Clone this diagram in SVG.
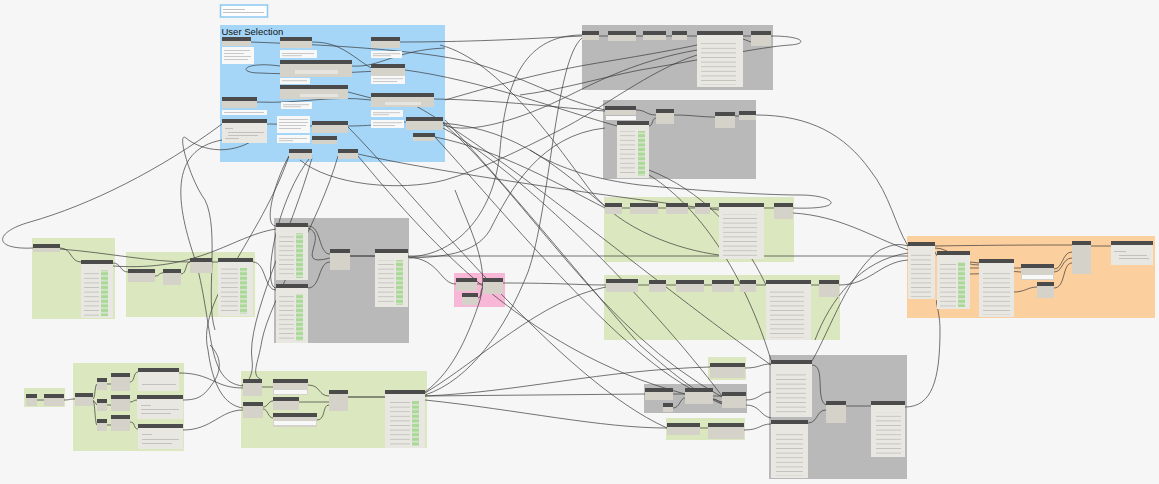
<svg xmlns="http://www.w3.org/2000/svg" width="1159" height="484" viewBox="0 0 1159 484">
<defs>
<pattern id="tl" width="10" height="4.6" patternUnits="userSpaceOnUse"><rect x="0" y="1.9" width="10" height="0.6" fill="#b1afaa"/></pattern>
<pattern id="gc" width="8" height="4.6" patternUnits="userSpaceOnUse"><rect x="0" y="0.6" width="8" height="3.4" fill="#a9d996"/></pattern>
<style>
.grp-blue{fill:#a5d6f8}.grp-gray{fill:#b9b9b9}.grp-green{fill:#dbe7be}.grp-orange{fill:#fccf9f}.grp-pink{fill:#f8b7d7}
.h{fill:#4b4b4b}.b{fill:#d5d2ca}.l{fill:#e9e7e2}.p{fill:#e6e4de}
.n{fill:#f8f8f8}.tx{fill:#a8a8a8}
.tl{fill:url(#tl)}.gc{fill:url(#gc)}
.w{fill:none;stroke:#3a3a3a;stroke-width:0.7}
.wb{fill:none;stroke:#2f2f2f;stroke-width:1.1}
.title{font-family:"Liberation Sans",Arial,sans-serif;font-size:9.5px;fill:#111}
</style>
</defs>
<rect width="1159" height="484" fill="#f6f6f6"/>

<g id="groups">
<rect class="grp-blue" x="220" y="25" width="225" height="137"/>
<text class="title" x="221.5" y="34.5">User Selection</text>
<rect class="grp-gray" x="582" y="25" width="191" height="65"/>
<rect class="grp-gray" x="603" y="100" width="153" height="79"/>
<rect class="grp-green" x="604" y="197" width="190" height="65"/>
<rect class="grp-green" x="604" y="275" width="236" height="65"/>
<rect class="grp-orange" x="907" y="236" width="248" height="82"/>
<rect class="grp-green" x="32" y="238" width="83" height="81"/>
<rect class="grp-green" x="126" y="252" width="129" height="65"/>
<rect class="grp-gray" x="274" y="218" width="135" height="125"/>
<rect class="grp-pink" x="454" y="273" width="51" height="34"/>
<rect class="grp-green" x="24" y="388" width="41" height="19"/>
<rect class="grp-green" x="73" y="363" width="111" height="88"/>
<rect class="grp-green" x="241" y="371" width="186" height="77"/>
<rect class="grp-green" x="708" y="357" width="38" height="23"/>
<rect class="grp-gray" x="644" y="384" width="103" height="29"/>
<rect class="grp-green" x="666" y="418" width="79" height="22"/>
<rect class="grp-gray" x="769" y="355" width="138" height="124"/>
</g>

<g id="legend">
<rect x="220.5" y="5" width="47" height="12" fill="#fdfdfd" stroke="#8ccaf2" stroke-width="1.5"/>
<rect class="tx" x="223" y="9" width="22" height="0.7"/>
<rect class="tx" x="223" y="12" width="41" height="0.7"/>
</g>

<g id="connectors">
<path class="w" d="M33,248 C-8,250 -6,232 30,222 C90,205 160,170 222,124"/>
<path class="w" d="M60,248 C72,248 70,262 81,262"/>
<path class="w" d="M60,249 C110,253 150,262 190,262"/>
<path class="w" d="M113,263 C121,263 120,272 128,272"/>
<path class="w" d="M113,266 C200,272 232,236 276,229"/>
<path class="w" d="M155,276 C160,276 158,273 163,273"/>
<path class="w" d="M181,274 C187,274 185,262 190,262"/>
<path class="w" d="M212,262 L218,262"/>
<path class="w" d="M253,262 C266,262 264,290 276,290"/>
<path class="w" d="M308,226 C322,226 318,254 330,254"/>
<path class="w" d="M308,228 C330,236 292,268 330,258"/>
<path class="w" d="M308,288 C321,288 318,262 330,262"/>
<path class="wb" d="M350,256 L375,256"/>
<path class="w" d="M408,256 L908,256"/>
<path class="w" d="M408,257 C440,259 440,284 456,284"/>
<path class="w" d="M477,284 L483,284"/>
<path class="w" d="M478,298 C482,298 480,288 483,288"/>
<path class="w" d="M503,283 C560,283 580,285 606,285"/>
<path class="w" d="M582,35 C520,35 505,90 500,150 C495,210 460,255 408,257"/>
<path class="w" d="M605,128 C540,135 510,190 490,230 C475,255 440,257 409,258"/>
<path class="w" d="M276,226 C262,226 276,178 289,156"/>
<path class="w" d="M276,288 C262,288 275,200 312,155"/>
<path class="w" d="M222,140 C168,150 176,205 196,262 C214,330 206,382 243,386"/>
<path class="w" d="M289,156 C260,240 196,300 208,350 C214,396 230,406 243,408"/>
<path class="w" d="M312,158 C292,230 246,320 252,360 C255,380 240,390 243,384"/>
<path class="w" d="M338,156 C320,220 270,300 262,340 C258,365 250,375 262,380"/>
<path class="w" d="M267,130 C235,160 200,150 186,138 C176,130 190,180 205,200 C220,230 205,300 215,330"/>
<path class="w" d="M358,156 C420,230 520,350 685,394"/>
<path class="w" d="M443,123 C530,200 600,330 722,397"/>
<path class="w" d="M435,137 C520,230 640,380 722,402"/>
<path class="w" d="M405,100 C500,150 650,280 771,365"/>
<path class="w" d="M348,127 C420,200 560,380 667,428"/>
<path class="w" d="M443,128 C520,170 650,300 722,396"/>
<path class="w" d="M445,120 C520,200 600,300 640,345 C680,380 700,395 722,404"/>
<path class="w" d="M251,42 C330,45 420,50 470,62 C520,75 560,100 605,110"/>
<path class="w" d="M312,42 C340,42 350,55 371,68"/>
<path class="w" d="M400,42 C480,42 540,38 582,36"/>
<path class="w" d="M280,66 C243,61 236,73 260,73 C320,76 380,70 405,70"/>
<path class="w" d="M348,92 L371,98"/>
<path class="w" d="M257,102 C300,104 330,95 371,100"/>
<path class="w" d="M348,126 C380,126 385,122 406,122"/>
<path class="w" d="M267,124 C290,124 295,126 312,126"/>
<path class="w" d="M352,66 C380,68 395,50 445,48"/>
<path class="w" d="M434,99 C500,100 560,108 605,111"/>
<path class="w" d="M405,70 C480,80 560,110 617,126"/>
<path class="w" d="M443,123 C520,130 560,170 605,206"/>
<path class="w" d="M435,137 C500,150 560,185 605,208"/>
<path class="w" d="M358,154 C450,175 640,200 719,210"/>
<path class="w" d="M697,45 C650,55 600,62 570,68 C520,78 480,90 445,100"/>
<path class="w" d="M697,50 C640,60 600,80 570,95 C520,120 470,135 443,125"/>
<path class="w" d="M697,55 C650,70 600,110 560,130 C520,150 480,170 445,180 C400,192 330,185 300,160"/>
<path class="w" d="M440,45 C500,60 560,150 590,190 C620,230 680,250 719,255"/>
<path class="w" d="M599,36 L608,36 M636,36 L643,36 M666,36 L672,36 M687,36 L697,36 M743,36 L751,36"/>
<path class="w" d="M743,39 L751,42"/>
<path class="w" d="M771,36 C805,36 808,44 790,45 C760,47 700,60 640,70 C600,78 560,90 520,95"/>
<path class="w" d="M636,110 C646,110 646,115 656,115"/>
<path class="w" d="M649,126 C653,126 652,118 656,118"/>
<path class="w" d="M674,115 C692,115 700,117 715,117"/>
<path class="w" d="M735,116 L739,116"/>
<path class="w" d="M756,115 C810,115 845,135 870,170 C890,195 895,225 908,246"/>
<path class="w" d="M649,170 C700,190 740,230 766,285"/>
<path class="w" d="M649,175 C690,200 740,260 771,360"/>
<path class="w" d="M622,208 L630,208 M658,208 L666,208 M688,208 L695,208 M710,208 L719,208 M764,208 L774,208"/>
<path class="w" d="M793,208 C850,210 835,195 800,195 C760,195 690,190 640,185 C600,180 560,170 530,150"/>
<path class="w" d="M793,213 C840,216 870,236 908,250"/>
<path class="w" d="M638,285 L649,285 M666,285 L676,285 M704,285 L712,285 M734,285 L740,285 M756,285 L766,285 M811,285 L819,285"/>
<path class="w" d="M839,285 C870,285 880,262 908,260"/>
<path class="w" d="M815,340 C830,300 860,260 908,253"/>
<path class="w" d="M935,248 C952,248 960,266 979,265"/>
<path class="w" d="M935,252 L937,256"/>
<path class="w" d="M970,262 L979,263"/>
<path class="w" d="M970,268 C990,268 1002,268 1021,268"/>
<path class="w" d="M970,274 C990,274 1002,270 1021,272"/>
<path class="w" d="M1014,292 C1025,292 1028,287 1037,287"/>
<path class="w" d="M1054,269 C1063,269 1062,252 1072,252"/>
<path class="w" d="M1054,272 C1063,272 1062,258 1072,258"/>
<path class="w" d="M1054,288 C1066,288 1062,263 1072,263"/>
<path class="w" d="M935,246 C1000,245 1040,245 1072,245"/>
<path class="w" d="M1091,246 L1111,246"/>
<path class="w" d="M880,250 C895,243 900,244 908,246"/>
<path class="w" d="M37,400 L44,400"/>
<path class="w" d="M64,400 C70,400 69,399 75,399"/>
<path class="w" d="M93,399 C95,399 95,384 97,384"/>
<path class="w" d="M93,400 L97,405"/>
<path class="w" d="M93,401 C95,401 95,425 97,425"/>
<path class="w" d="M107,384 L111,384 M107,405 L111,405 M107,425 L111,425"/>
<path class="w" d="M130,382 C135,382 133,372 138,372"/>
<path class="w" d="M130,402 C134,402 133,400 137,400"/>
<path class="w" d="M130,422 C136,422 133,429 138,429"/>
<path class="w" d="M179,373 C212,373 214,388 243,388"/>
<path class="w" d="M183,400 C200,400 205,395 215,380 C225,362 215,350 210,345"/>
<path class="w" d="M183,430 C212,430 220,410 243,410"/>
<path class="w" d="M262,387 L273,387"/>
<path class="w" d="M263,407 C268,407 268,401 273,401"/>
<path class="w" d="M263,409 C268,409 268,418 273,418"/>
<path class="w" d="M308,385 C321,385 318,396 329,396"/>
<path class="w" d="M299,402 L329,402"/>
<path class="w" d="M317,420 C326,420 322,405 329,405"/>
<path class="wb" d="M348,397 L385,397"/>
<path class="w" d="M425,396 L645,394"/>
<path class="w" d="M425,396 C520,392 600,370 710,367"/>
<path class="w" d="M425,393 C480,360 540,300 606,287"/>
<path class="w" d="M425,395 C470,380 505,330 528,272 C550,210 555,60 582,38"/>
<path class="w" d="M425,400 C520,410 600,428 667,428"/>
<path class="w" d="M425,392 C455,370 470,330 480,300 C490,265 470,230 455,190"/>
<path class="w" d="M673,394 L685,394"/>
<path class="w" d="M673,408 C680,408 680,398 685,398"/>
<path class="w" d="M713,396 L722,396"/>
<path class="w" d="M713,399 C718,399 718,403 722,403"/>
<path class="w" d="M700,428 L708,428"/>
<path class="w" d="M745,368 C760,368 760,364 771,364"/>
<path class="w" d="M746,400 C760,400 760,392 771,392"/>
<path class="w" d="M746,405 C760,405 760,416 771,418"/>
<path class="w" d="M744,430 C760,430 760,424 771,424"/>
<path class="w" d="M812,365 C826,365 815,400 826,405"/>
<path class="w" d="M808,423 C818,423 816,410 826,410"/>
<path class="w" d="M846,406 L871,406"/>
<path class="w" d="M905,407 C932,407 940,380 940,330 C940,312 935,302 937,300"/>
<path class="w" d="M812,361 C830,330 850,270 880,250"/>
</g>

<g id="n-u1"><rect class="h" x="222" y="37" width="29" height="4"/><rect class="b" x="222" y="41" width="29" height="5"/></g>
<g id="n-u1n"><rect class="n" x="222" y="47" width="32" height="17"/><rect class="tx" x="224" y="50" width="26" height="0.6"/><rect class="tx" x="224" y="53" width="20" height="0.6"/><rect class="tx" x="224" y="56" width="27" height="0.6"/><rect class="tx" x="224" y="59" width="24" height="0.6"/></g>
<g id="n-u2"><rect class="h" x="280" y="37" width="32" height="4"/><rect class="b" x="280" y="41" width="32" height="7"/></g>
<g id="n-u2n"><rect class="n" x="280" y="50" width="37" height="8"/><rect class="tx" x="282" y="53" width="32" height="0.6"/><rect class="tx" x="282" y="55.5" width="20" height="0.6"/></g>
<g id="n-u3"><rect class="h" x="371" y="37" width="29" height="4"/><rect class="b" x="371" y="41" width="29" height="7"/></g>
<g id="n-u3n"><rect class="n" x="371" y="51" width="31" height="7"/><rect class="tx" x="373" y="53.5" width="27" height="0.6"/><rect class="tx" x="373" y="55.5" width="18" height="0.6"/></g>
<g id="n-u4"><rect class="h" x="280" y="60" width="72" height="4"/><rect class="b" x="280" y="64" width="72" height="13"/><rect class="p" x="295" y="70" width="43" height="4"/></g>
<g id="n-u4n"><rect class="n" x="280" y="78" width="30" height="6"/><rect class="tx" x="282" y="80.5" width="25" height="0.6"/></g>
<g id="n-u5"><rect class="h" x="371" y="64" width="34" height="4"/><rect class="b" x="371" y="68" width="34" height="8"/></g>
<g id="n-u5n"><rect class="n" x="371" y="76" width="34" height="8"/><rect class="tx" x="373" y="78.5" width="30" height="0.6"/><rect class="tx" x="373" y="81" width="24" height="0.6"/></g>
<g id="n-u6"><rect class="h" x="280" y="85" width="68" height="4"/><rect class="b" x="280" y="89" width="68" height="10"/><rect class="p" x="300" y="94" width="38" height="3"/></g>
<g id="n-u6n"><rect class="n" x="281" y="102" width="31" height="7"/><rect class="tx" x="283" y="104.5" width="26" height="0.6"/><rect class="tx" x="283" y="106.5" width="18" height="0.6"/></g>
<g id="n-u7"><rect class="h" x="222" y="97" width="35" height="4"/><rect class="b" x="222" y="101" width="35" height="7"/></g>
<g id="n-u7n"><rect class="n" x="222" y="110" width="45" height="5"/><rect class="tx" x="224" y="112" width="40" height="0.6"/></g>
<g id="n-u8"><rect class="h" x="371" y="93" width="63" height="4"/><rect class="b" x="371" y="97" width="63" height="10"/><rect class="p" x="385" y="102" width="36" height="3"/></g>
<g id="n-u8n"><rect class="n" x="371" y="110" width="32" height="7"/><rect class="tx" x="373" y="112.5" width="27" height="0.6"/><rect class="tx" x="373" y="114.5" width="16" height="0.6"/></g>
<g id="n-u8m"><rect class="n" x="371" y="120" width="33" height="8"/><rect class="tx" x="373" y="122.5" width="29" height="0.6"/><rect class="tx" x="373" y="125" width="22" height="0.6"/></g>
<g id="n-u9"><rect class="h" x="222" y="119" width="45" height="4"/><rect class="l" x="222" y="123" width="45" height="20"/><rect class="tx" x="225" y="128" width="8" height="0.6"/><rect class="tx" x="228" y="132" width="36" height="0.6"/><rect class="tx" x="228" y="135" width="30" height="0.6"/><rect class="tx" x="225" y="138" width="14" height="0.6"/></g>
<g id="n-u10n"><rect class="n" x="277" y="116" width="33" height="17"/><rect class="tx" x="279" y="119" width="29" height="0.6"/><rect class="tx" x="279" y="122" width="29" height="0.6"/><rect class="tx" x="279" y="125" width="27" height="0.6"/><rect class="tx" x="279" y="128" width="22" height="0.6"/></g>
<g id="n-u11n"><rect class="n" x="277" y="135" width="33" height="8"/><rect class="tx" x="279" y="138" width="28" height="0.6"/><rect class="tx" x="279" y="140.5" width="14" height="0.6"/></g>
<g id="n-u11"><rect class="h" x="312" y="121" width="36" height="4"/><rect class="b" x="312" y="125" width="36" height="8"/></g>
<g id="n-u12"><rect class="h" x="312" y="136" width="25" height="4"/><rect class="b" x="312" y="140" width="25" height="4"/></g>
<g id="n-u13"><rect class="h" x="406" y="117" width="37" height="4"/><rect class="b" x="406" y="121" width="37" height="9"/></g>
<g id="n-u14"><rect class="h" x="413" y="133" width="22" height="4"/><rect class="b" x="413" y="137" width="22" height="4"/></g>
<g id="n-u15"><rect class="h" x="289" y="149" width="23" height="4"/><rect class="b" x="289" y="153" width="23" height="6"/></g>
<g id="n-u16"><rect class="h" x="338" y="149" width="20" height="4"/><rect class="b" x="338" y="153" width="20" height="6"/></g>

<g id="n-g1a"><rect class="h" x="582" y="31" width="17" height="4"/><rect class="b" x="582" y="35" width="17" height="5"/></g>
<g id="n-g1b"><rect class="h" x="608" y="31" width="28" height="4"/><rect class="b" x="608" y="35" width="28" height="6"/></g>
<g id="n-g1c"><rect class="h" x="643" y="31" width="23" height="4"/><rect class="b" x="643" y="35" width="23" height="5"/></g>
<g id="n-g1d"><rect class="h" x="672" y="31" width="15" height="4"/><rect class="b" x="672" y="35" width="15" height="5"/></g>
<g id="n-g1e"><rect class="h" x="697" y="31" width="46" height="4"/><rect class="l" x="697" y="35" width="46" height="52"/><rect class="tl" x="701" y="42" width="35" height="43"/></g>
<g id="n-g1f"><rect class="h" x="751" y="31" width="20" height="4"/><rect class="b" x="751" y="35" width="20" height="11"/></g>

<g id="n-g2a"><rect class="h" x="605" y="106" width="31" height="4"/><rect class="b" x="605" y="110" width="31" height="5"/><rect class="n" x="606" y="116" width="30" height="4"/></g>
<g id="n-g2b"><rect class="h" x="617" y="121" width="32" height="4"/><rect class="l" x="617" y="125" width="32" height="53"/><rect class="tl" x="620" y="131" width="15" height="45"/><rect class="gc" x="638" y="131" width="7" height="45"/></g>
<g id="n-g2c"><rect class="h" x="656" y="109" width="18" height="4"/><rect class="b" x="656" y="113" width="18" height="11"/></g>
<g id="n-g2d"><rect class="h" x="715" y="112" width="20" height="4"/><rect class="b" x="715" y="116" width="20" height="12"/></g>
<g id="n-g2e"><rect class="h" x="739" y="111" width="17" height="4"/><rect class="b" x="739" y="115" width="17" height="5"/></g>

<g id="n-g3a"><rect class="h" x="605" y="203" width="17" height="4"/><rect class="b" x="605" y="207" width="17" height="7"/></g>
<g id="n-g3b"><rect class="h" x="630" y="203" width="28" height="4"/><rect class="b" x="630" y="207" width="28" height="7"/></g>
<g id="n-g3c"><rect class="h" x="666" y="203" width="22" height="4"/><rect class="b" x="666" y="207" width="22" height="7"/></g>
<g id="n-g3d"><rect class="h" x="695" y="203" width="15" height="4"/><rect class="b" x="695" y="207" width="15" height="7"/></g>
<g id="n-g3e"><rect class="h" x="719" y="203" width="45" height="4"/><rect class="l" x="719" y="207" width="45" height="52"/><rect class="tl" x="723" y="214" width="34" height="43"/></g>
<g id="n-g3f"><rect class="h" x="774" y="203" width="19" height="4"/><rect class="b" x="774" y="207" width="19" height="12"/></g>

<g id="n-g4a"><rect class="h" x="606" y="279" width="32" height="4"/><rect class="b" x="606" y="283" width="32" height="9"/></g>
<g id="n-g4b"><rect class="h" x="649" y="280" width="17" height="4"/><rect class="b" x="649" y="284" width="17" height="8"/></g>
<g id="n-g4c"><rect class="h" x="676" y="280" width="28" height="4"/><rect class="b" x="676" y="284" width="28" height="8"/></g>
<g id="n-g4d"><rect class="h" x="712" y="280" width="22" height="4"/><rect class="b" x="712" y="284" width="22" height="8"/></g>
<g id="n-g4e"><rect class="h" x="740" y="280" width="16" height="4"/><rect class="b" x="740" y="284" width="16" height="8"/></g>
<g id="n-g4f"><rect class="h" x="766" y="280" width="45" height="4"/><rect class="l" x="766" y="284" width="45" height="56"/><rect class="tl" x="770" y="291" width="34" height="47"/></g>
<g id="n-g4g"><rect class="h" x="819" y="280" width="20" height="4"/><rect class="b" x="819" y="284" width="20" height="13"/></g>

<g id="n-o1"><rect class="h" x="908" y="242" width="27" height="4"/><rect class="l" x="908" y="246" width="27" height="53"/><rect class="tl" x="911" y="252" width="20" height="45"/></g>
<g id="n-o2"><rect class="h" x="937" y="251" width="33" height="4"/><rect class="l" x="937" y="255" width="33" height="54"/><rect class="tl" x="940" y="262" width="16" height="45"/><rect class="gc" x="958" y="262" width="7" height="45"/></g>
<g id="n-o3"><rect class="h" x="979" y="259" width="35" height="4"/><rect class="l" x="979" y="263" width="35" height="54"/><rect class="tl" x="983" y="270" width="27" height="45"/></g>
<g id="n-o4"><rect class="h" x="1021" y="264" width="33" height="4"/><rect class="b" x="1021" y="268" width="33" height="12"/><rect class="n" x="1022" y="275" width="31" height="4"/></g>
<g id="n-o5"><rect class="h" x="1037" y="282" width="17" height="4"/><rect class="b" x="1037" y="286" width="17" height="12"/></g>
<g id="n-o6"><rect class="h" x="1072" y="241" width="19" height="4"/><rect class="b" x="1072" y="245" width="19" height="29"/></g>
<g id="n-o7"><rect class="h" x="1111" y="241" width="42" height="4"/><rect class="l" x="1111" y="245" width="42" height="20"/><rect class="tx" x="1114" y="251" width="12" height="0.6"/><rect class="tx" x="1119" y="255" width="28" height="0.6"/><rect class="tx" x="1119" y="258" width="30" height="0.6"/></g>

<g id="n-a1"><rect class="h" x="33" y="244" width="27" height="4"/><rect class="b" x="33" y="248" width="27" height="4"/></g>
<g id="n-a2"><rect class="h" x="81" y="260" width="32" height="4"/><rect class="l" x="81" y="264" width="32" height="54"/><rect class="tl" x="84" y="270" width="15" height="46"/><rect class="gc" x="101" y="270" width="7" height="46"/></g>
<g id="n-b1"><rect class="h" x="128" y="269" width="27" height="4"/><rect class="b" x="128" y="273" width="27" height="9"/></g>
<g id="n-b2"><rect class="h" x="163" y="269" width="18" height="4"/><rect class="b" x="163" y="273" width="18" height="12"/></g>
<g id="n-b3"><rect class="h" x="190" y="258" width="22" height="4"/><rect class="b" x="190" y="262" width="22" height="11"/></g>
<g id="n-b4"><rect class="h" x="218" y="258" width="35" height="4"/><rect class="l" x="218" y="262" width="35" height="54"/><rect class="tl" x="221" y="268" width="17" height="46"/><rect class="gc" x="240" y="268" width="7" height="46"/></g>
<g id="n-c1"><rect class="h" x="276" y="223" width="32" height="4"/><rect class="l" x="276" y="227" width="32" height="53"/><rect class="tl" x="279" y="233" width="15" height="45"/><rect class="gc" x="296" y="233" width="7" height="45"/></g>
<g id="n-c2"><rect class="h" x="276" y="284" width="32" height="4"/><rect class="l" x="276" y="288" width="32" height="55"/><rect class="tl" x="279" y="294" width="15" height="47"/><rect class="gc" x="296" y="294" width="7" height="47"/></g>
<g id="n-c3"><rect class="h" x="330" y="249" width="20" height="4"/><rect class="b" x="330" y="253" width="20" height="17"/></g>
<g id="n-c4"><rect class="h" x="375" y="249" width="33" height="4"/><rect class="l" x="375" y="253" width="33" height="54"/><rect class="tl" x="378" y="260" width="16" height="45"/><rect class="gc" x="396" y="260" width="7" height="45"/></g>
<g id="n-p1"><rect class="h" x="456" y="278" width="21" height="4"/><rect class="b" x="456" y="282" width="21" height="9"/></g>
<g id="n-p2"><rect class="h" x="483" y="278" width="20" height="4"/><rect class="b" x="483" y="282" width="20" height="12"/></g>
<g id="n-p3"><rect class="h" x="462" y="293" width="16" height="4"/><rect class="b" x="462" y="297" width="16" height="8"/></g>

<g id="n-s1"><rect class="h" x="26" y="394" width="11" height="4"/><rect class="b" x="26" y="398" width="11" height="8"/></g>
<g id="n-s2"><rect class="h" x="44" y="394" width="20" height="4"/><rect class="b" x="44" y="398" width="20" height="8"/></g>
<g id="n-d1"><rect class="h" x="75" y="393" width="18" height="4"/><rect class="b" x="75" y="397" width="18" height="9"/></g>
<g id="n-d2"><rect class="h" x="97" y="378" width="10" height="4"/><rect class="b" x="97" y="382" width="10" height="8"/></g>
<g id="n-d3"><rect class="h" x="111" y="373" width="19" height="4"/><rect class="b" x="111" y="377" width="19" height="14"/></g>
<g id="n-d4"><rect class="h" x="138" y="368" width="41" height="4"/><rect class="l" x="138" y="372" width="41" height="19"/><rect class="tx" x="142" y="384" width="34" height="0.6"/></g>
<g id="n-d5"><rect class="h" x="97" y="399" width="10" height="4"/><rect class="b" x="97" y="403" width="10" height="8"/></g>
<g id="n-d6"><rect class="h" x="111" y="395" width="19" height="4"/><rect class="b" x="111" y="399" width="19" height="12"/></g>
<g id="n-d7"><rect class="h" x="137" y="395" width="46" height="4"/><rect class="l" x="137" y="399" width="46" height="20"/><rect class="tx" x="141" y="405" width="10" height="0.6"/><rect class="tx" x="141" y="409" width="38" height="0.6"/><rect class="tx" x="141" y="413" width="30" height="0.6"/></g>
<g id="n-d8"><rect class="h" x="97" y="419" width="10" height="4"/><rect class="b" x="97" y="423" width="10" height="8"/></g>
<g id="n-d9"><rect class="h" x="111" y="415" width="19" height="4"/><rect class="b" x="111" y="419" width="19" height="12"/></g>
<g id="n-d10"><rect class="h" x="138" y="424" width="45" height="4"/><rect class="l" x="138" y="428" width="45" height="21"/><rect class="tx" x="142" y="434" width="10" height="0.6"/><rect class="tx" x="142" y="439" width="37" height="0.6"/><rect class="tx" x="142" y="443" width="30" height="0.6"/></g>

<g id="n-e1"><rect class="h" x="243" y="379" width="19" height="4"/><rect class="b" x="243" y="383" width="19" height="13"/></g>
<g id="n-e2"><rect class="h" x="273" y="379" width="35" height="4"/><rect class="b" x="273" y="383" width="35" height="12"/><rect class="n" x="274" y="390" width="33" height="4"/></g>
<g id="n-e3"><rect class="h" x="243" y="402" width="20" height="4"/><rect class="b" x="243" y="406" width="20" height="12"/></g>
<g id="n-e4"><rect class="h" x="273" y="397" width="26" height="4"/><rect class="b" x="273" y="401" width="26" height="9"/></g>
<g id="n-e5"><rect class="h" x="273" y="413" width="44" height="4"/><rect class="b" x="273" y="417" width="44" height="10"/><rect class="n" x="274" y="421" width="42" height="4"/></g>
<g id="n-e6"><rect class="h" x="329" y="390" width="19" height="4"/><rect class="b" x="329" y="394" width="19" height="17"/></g>
<g id="n-e7"><rect class="h" x="385" y="390" width="40" height="4"/><rect class="l" x="385" y="394" width="40" height="54"/><rect class="tl" x="390" y="401" width="20" height="45"/><rect class="gc" x="412" y="401" width="7" height="45"/></g>

<g id="n-f1"><rect class="h" x="710" y="363" width="35" height="4"/><rect class="b" x="710" y="367" width="35" height="11"/></g>
<g id="n-h1"><rect class="h" x="645" y="388" width="28" height="4"/><rect class="b" x="645" y="392" width="28" height="8"/></g>
<g id="n-h2"><rect class="h" x="685" y="388" width="28" height="4"/><rect class="b" x="685" y="392" width="28" height="12"/></g>
<g id="n-h3"><rect class="h" x="663" y="403" width="10" height="4"/><rect class="b" x="663" y="407" width="10" height="5"/></g>
<g id="n-h4"><rect class="h" x="722" y="392" width="24" height="4"/><rect class="b" x="722" y="396" width="24" height="12"/></g>
<g id="n-i1"><rect class="h" x="667" y="423" width="33" height="4"/><rect class="b" x="667" y="427" width="33" height="8"/></g>
<g id="n-i2"><rect class="h" x="708" y="423" width="36" height="4"/><rect class="b" x="708" y="427" width="36" height="12"/></g>
<g id="n-j1"><rect class="h" x="771" y="360" width="41" height="4"/><rect class="l" x="771" y="364" width="41" height="53"/><rect class="tl" x="776" y="371" width="30" height="44"/></g>
<g id="n-j2"><rect class="h" x="771" y="420" width="37" height="4"/><rect class="l" x="771" y="424" width="37" height="54"/><rect class="tl" x="776" y="431" width="27" height="45"/></g>
<g id="n-j3"><rect class="h" x="826" y="401" width="20" height="4"/><rect class="b" x="826" y="405" width="20" height="18"/></g>
<g id="n-j4"><rect class="h" x="871" y="401" width="34" height="4"/><rect class="l" x="871" y="405" width="34" height="52"/><rect class="tl" x="876" y="412" width="25" height="43"/></g>
</svg>
